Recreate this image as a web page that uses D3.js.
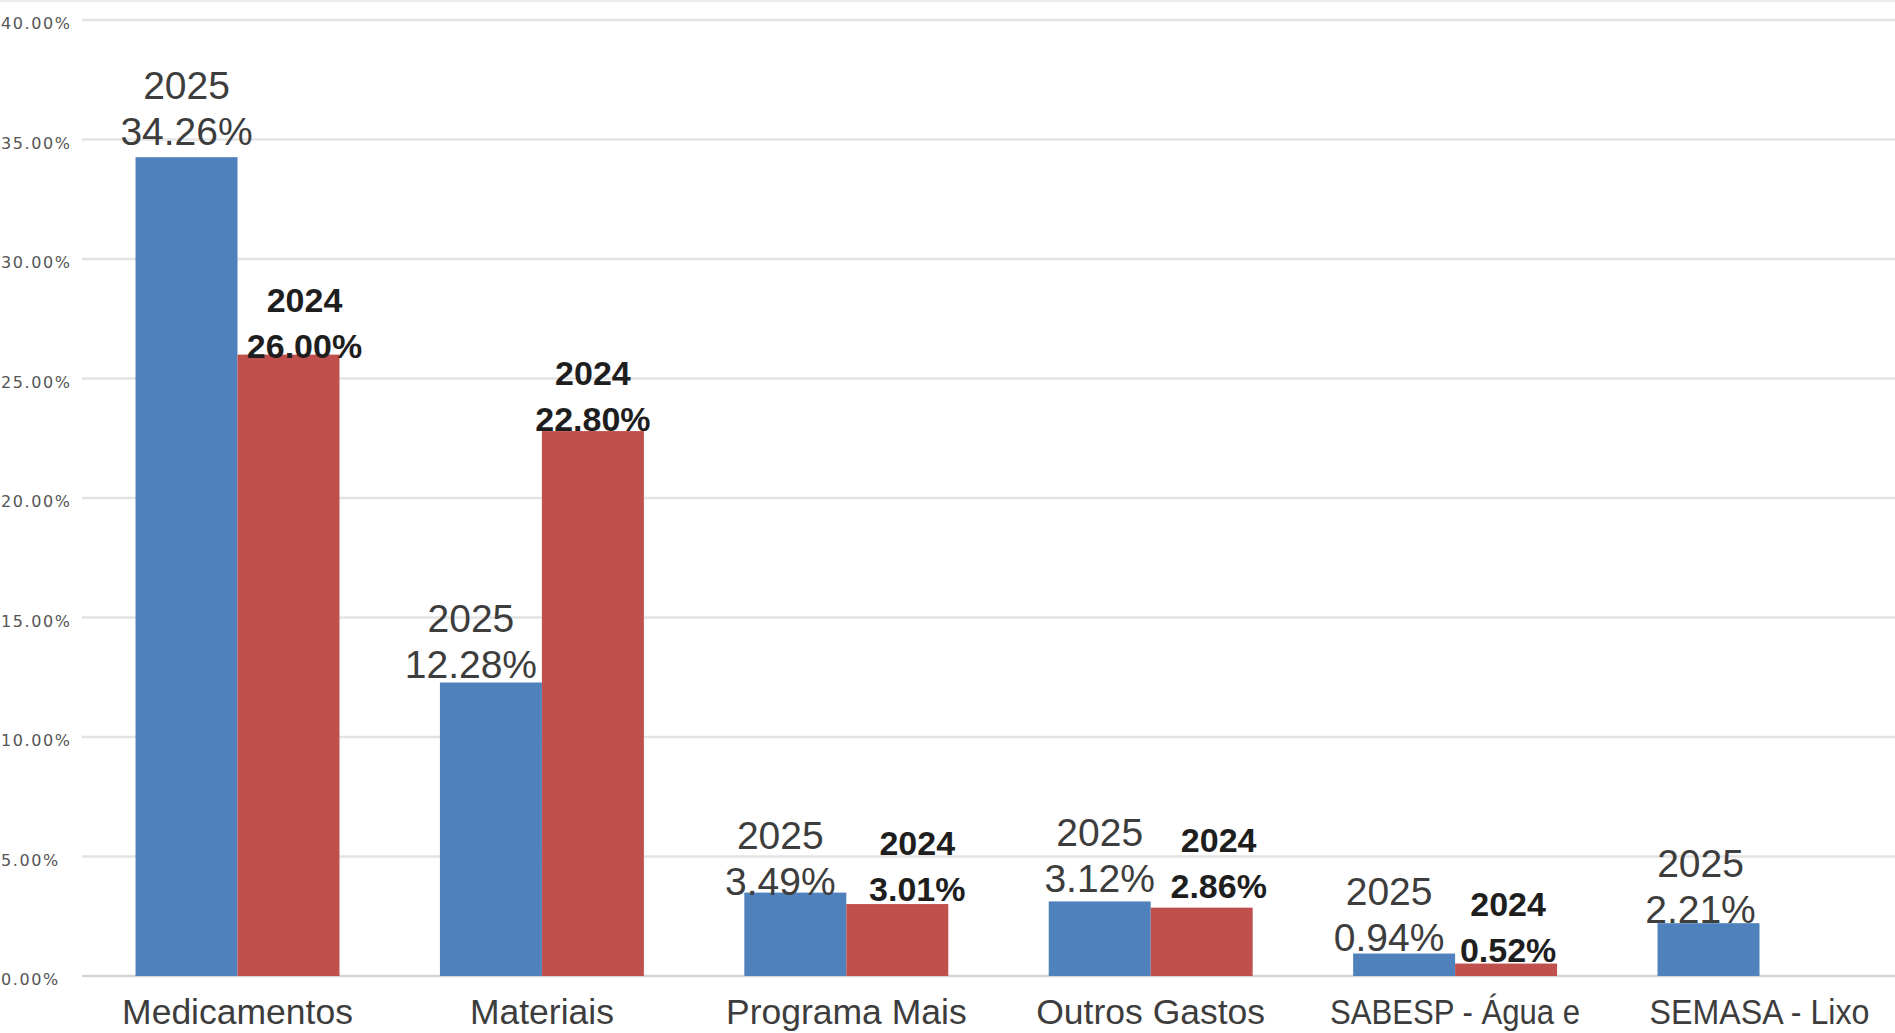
<!DOCTYPE html>
<html>
<head>
<meta charset="utf-8">
<script src="https://cdn.jsdelivr.net/npm/d3@7"></script>
<style>
  html, body { margin: 0; padding: 0; background: #ffffff; overflow: hidden; }
  svg { display: block; }
</style>
</head>
<body>
<svg id="chart" width="1895" height="1033"></svg>
<script>
// ---- data ----
const categories = ["Medicamentos", "Materiais", "Programa Mais", "Outros Gastos", "SABESP - Água e", "SEMASA - Lixo"];
const seriesNames = ["2025", "2024"];
const values2025 = [34.26, 12.28, 3.49, 3.12, 0.94, 2.21];
const values2024 = [26.00, 22.80, 3.01, 2.86, 0.52, null];
const yTickValues = [0, 5, 10, 15, 20, 25, 30, 35, 40];

// ---- label nudges (layout only, px) ----
const labelDx2025 = [0, -20, -15, 0, -15, -8];
const labelDy2025 = [-26, -19, -12, -23, -17, -14];
const labelDx2024 = [16, 0, 20, 17, 2, 0];
const labelDy2024 = [-9, -12, -15, -22, -14, 0];

const svg = d3.select("#chart");
const W = 1895, H = 1033;

const y = d3.scaleLinear().domain([0, 40]).range([976, 20]);
const x0 = d3.scaleBand().domain(categories).range([85, 1912]).paddingInner(0.33).paddingOuter(0.166);
const x1 = d3.scaleBand().domain(seriesNames).range([0, x0.bandwidth()]).padding(0);
const colors = { "2025": "#4F81BD", "2024": "#C0504D" };

// top border faint line
svg.append("line").attr("x1", 0).attr("x2", W).attr("y1", 1).attr("y2", 1)
  .attr("stroke", "#ececec").attr("stroke-width", 2);

// gridlines
svg.append("g").selectAll("line").data(yTickValues).join("line")
  .attr("x1", 82).attr("x2", W)
  .attr("y1", d => y(d)).attr("y2", d => y(d))
  .attr("stroke", d => d === 0 ? "#d4d4d4" : "#e3e3e3")
  .attr("stroke-width", 2.5);

// y tick labels
const fmt = d => d3.format(".2f")(d) + "%";
svg.append("g").selectAll("text").data(yTickValues).join("text")
  .attr("x", 1).attr("y", d => y(d) + 9)
  .attr("font-family", "DejaVu Sans, sans-serif")
  .attr("font-size", 16).attr("letter-spacing", 1.6)
  .attr("fill", "#555555")
  .text(fmt);

// bars
const rows = categories.map((c, i) => ({ cat: c, i, vals: [
  { s: "2025", v: values2025[i] },
  { s: "2024", v: values2024[i] }
]}));

const groups = svg.append("g").selectAll("g").data(rows).join("g")
  .attr("transform", d => `translate(${x0(d.cat)},0)`);

groups.selectAll("rect").data(d => d.vals.filter(e => e.v != null)).join("rect")
  .attr("x", d => x1(d.s))
  .attr("width", x1.bandwidth())
  .attr("y", d => y(d.v))
  .attr("height", d => y(0) - y(d.v))
  .attr("fill", d => colors[d.s]);

// data labels
const lineGap = 46;
rows.forEach(r => {
  const i = r.i;
  if (values2025[i] != null) {
    const cx = x0(r.cat) + x1("2025") + x1.bandwidth() / 2 + labelDx2025[i];
    const vy = y(values2025[i]) + labelDy2025[i] + 14;
    const g = svg.append("g").attr("font-family", "Liberation Sans, Arial, sans-serif")
      .attr("font-size", 39).attr("fill", "#3d3d3d").attr("text-anchor", "middle");
    g.append("text").attr("x", cx).attr("y", vy - lineGap).text(seriesNames[0]);
    g.append("text").attr("x", cx).attr("y", vy).text(d3.format(".2f")(values2025[i]) + "%");
  }
  if (values2024[i] != null) {
    const cx = x0(r.cat) + x1("2024") + x1.bandwidth() / 2 + labelDx2024[i];
    const vy = y(values2024[i]) + labelDy2024[i] + 12;
    const g = svg.append("g").attr("font-family", "Liberation Sans, Arial, sans-serif")
      .attr("font-size", 34).attr("font-weight", "bold").attr("fill", "#1e1e1e").attr("text-anchor", "middle");
    g.append("text").attr("x", cx).attr("y", vy - lineGap).text(seriesNames[1]);
    g.append("text").attr("x", cx).attr("y", vy).text(d3.format(".2f")(values2024[i]) + "%");
  }
});

// x axis labels
svg.append("g").selectAll("text").data(categories).join("text")
  .attr("x", d => x0(d) + x0.bandwidth() / 2)
  .attr("y", 1024)
  .attr("text-anchor", "middle")
  .attr("font-family", "Liberation Sans, Arial, sans-serif")
  .attr("font-size", 35.5)
  .attr("fill", "#3d3d3d")
  .attr("textLength", d => d === "SABESP - Água e" ? 250 : (d === "SEMASA - Lixo" ? 220 : null))
  .attr("lengthAdjust", "spacingAndGlyphs")
  .text(d => d);
</script>
</body>
</html>
